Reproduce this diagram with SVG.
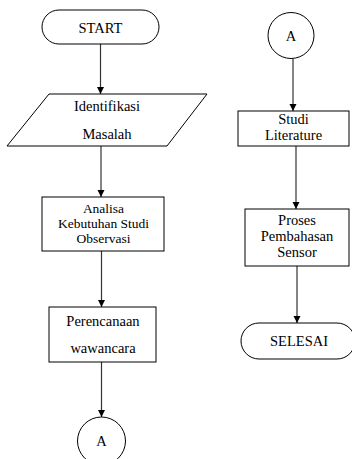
<svg xmlns="http://www.w3.org/2000/svg" width="352" height="459" viewBox="0 0 352 459" font-family="Liberation Serif">
<style>
.s{fill:#fff;stroke:#000;stroke-width:1}
text{font-family:"Liberation Serif";font-size:14.5px;fill:#000;text-anchor:middle}
.c{stroke:#333;stroke-width:1.2;fill:none;marker-end:url(#ah)}
</style>
<defs>
<marker id="ah" viewBox="0 0 10 10" refX="10" refY="5" markerWidth="7" markerHeight="8" markerUnits="userSpaceOnUse" orient="auto">
<path d="M0,0 L10,5 L0,10 Z" fill="#000"/>
</marker>
</defs>
<rect width="352" height="459" fill="#fff"/>
<g id="connectors">
<line class="c" x1="100.5" y1="44" x2="100.5" y2="94"/>
<line class="c" x1="101" y1="146" x2="101" y2="197"/>
<line class="c" x1="101.5" y1="251" x2="101.5" y2="307"/>
<line class="c" x1="101.5" y1="362" x2="101.5" y2="417"/>
<line class="c" x1="293" y1="59" x2="293" y2="111"/>
<line class="c" x1="296" y1="146" x2="296" y2="209"/>
<line class="c" x1="297" y1="266" x2="297" y2="323"/>
</g>
<g id="start">
<rect class="s" x="42" y="10" width="117" height="34" rx="17"/>
<text x="100.5" y="33">START</text>
</g>
<g id="identifikasi">
<polygon class="s" points="49,94 207,94 167,146 7,146"/>
<text x="107" y="111">Identifikasi</text>
<text x="107" y="139">Masalah</text>
</g>
<g id="analisa">
<rect class="s" x="42" y="197" width="122" height="54"/>
<text x="103.5" y="213" style="font-size:13.5px">Analisa</text>
<text x="103.5" y="228" style="font-size:13.5px">Kebutuhan Studi</text>
<text x="103.5" y="243" style="font-size:13.5px">Observasi</text>
</g>
<g id="perencanaan">
<rect class="s" x="49" y="307" width="107" height="55"/>
<text x="103" y="326">Perencanaan</text>
<text x="103" y="353">wawancara</text>
</g>
<g id="connA1">
<circle class="s" cx="101.5" cy="441" r="24"/>
<text x="101.5" y="446">A</text>
</g>
<g id="connA2">
<circle class="s" cx="291" cy="35.5" r="23"/>
<text x="291" y="40.5">A</text>
</g>
<g id="studi">
<rect class="s" x="238" y="111" width="111" height="35"/>
<text x="293.5" y="124">Studi</text>
<text x="293.5" y="140">Literature</text>
</g>
<g id="proses">
<rect class="s" x="245" y="209" width="104" height="57"/>
<text x="297" y="225">Proses</text>
<text x="297" y="241">Pembahasan</text>
<text x="297" y="257">Sensor</text>
</g>
<g id="selesai">
<rect class="s" x="241" y="323" width="114" height="36" rx="18"/>
<text x="299" y="346">SELESAI</text>
</g>
</svg>
